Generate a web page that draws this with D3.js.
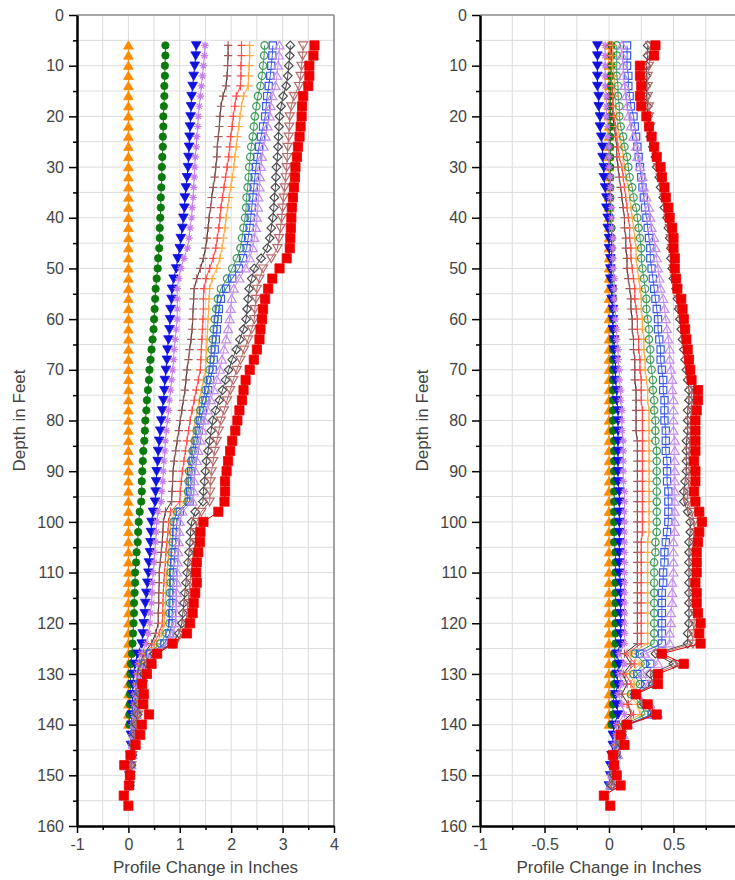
<!DOCTYPE html>
<html>
<head>
<meta charset="utf-8">
<script src="https://cdn.jsdelivr.net/npm/d3@7"></script>
<style>
  body { margin: 0; background: #fff; }
  text { font-family: "Liberation Sans", Arial, sans-serif; }
</style>
</head>
<body>
<div id="chart"></div>
<script>
// depth of each reading (feet)
var depths = [6,8,10,12,14,16,18,20,22,24,26,28,30,32,34,36,38,40,42,44,46,48,50,52,54,56,58,60,62,64,66,68,70,72,74,76,78,80,82,84,86,88,90,92,94,96,98,100,102,104,106,108,110,112,114,116,118,120,122,124,126,128,130,132,134,136,138,140,142,144,146,148,150,152,154,156];

var yTicks = [0,10,20,30,40,50,60,70,80,90,100,110,120,130,140,150,160];
var yMinor = [5,15,25,35,45,55,65,75,85,95,105,115,125,135,145,155];
var xTicksA = [-1,0,1,2,3,4];
var xMinorA = [-0.5,0.5,1.5,2.5,3.5];
var xTicksB = [-1,-0.5,0,0.5];
var xMinorB = [-0.75,-0.25,0.25,0.75];

// ---- A panel (left) profile change, inches ----
var aOrange = [0,0,0,0,0,0,0,0,0,0, 0,0,0,0,0,0,0,0,0,0, 0,0,0,0,0,0,0,0,0,0,
  0,0,0,0,0,0,0,0,0,0, 0,0,0,0,0,0,0,0,0,0, 0,0,0,0,0,0,0,0,0,0, 0,0,0,0,0,0,0,0];
var aGreen = [0.72,0.72,0.71,0.71,0.70,0.70,0.69,0.68,0.68,0.67,
  0.67,0.66,0.65,0.65,0.64,0.63,0.63,0.62,0.61,0.61,
  0.60,0.58,0.57,0.55,0.53,0.52,0.51,0.50,0.49,0.47,
  0.45,0.43,0.41,0.40,0.38,0.36,0.35,0.33,0.32,0.31,
  0.29,0.28,0.27,0.26,0.26,0.25,0.22,0.20,0.19,0.18,
  0.16,0.15,0.13,0.13,0.12,0.11,0.11,0.10,0.09,0.08,
  0.07,0.05,0.04,0.04,0.03,0.03,0.02,0.02];
var aBlue = [1.32,1.31,1.29,1.27,1.25,1.23,1.22,1.21,1.20,1.19,
  1.18,1.17,1.16,1.14,1.12,1.10,1.09,1.07,1.05,1.02,
  1.00,0.96,0.93,0.88,0.85,0.84,0.82,0.81,0.80,0.78,
  0.76,0.75,0.73,0.71,0.70,0.68,0.66,0.64,0.62,0.60,
  0.58,0.57,0.55,0.54,0.53,0.52,0.48,0.45,0.44,0.43,
  0.42,0.40,0.39,0.37,0.35,0.33,0.32,0.30,0.28,0.26,
  0.18,0.13,0.10,0.09,0.08,0.08,0.07,0.06,0.05,0.05,
  0.04,0.03,0.02,0.02];
var aViolet = [1.49,1.48,1.46,1.44,1.42,1.40,1.38,1.36,1.35,1.33,
  1.32,1.30,1.29,1.28,1.27,1.26,1.24,1.23,1.20,1.18,
  1.15,1.08,1.02,0.98,0.95,0.95,0.95,0.95,0.93,0.91,
  0.89,0.88,0.86,0.84,0.82,0.80,0.78,0.76,0.74,0.72,
  0.71,0.69,0.68,0.67,0.65,0.64,0.58,0.55,0.54,0.53,
  0.51,0.50,0.48,0.47,0.46,0.45,0.43,0.42,0.39,0.35,
  0.25,0.19,0.16,0.14,0.12,0.11,0.10,0.08,0.07,0.06,
  0.05,0.04,0.03,0.02];
var aBrownPlus = [1.94,1.94,1.93,1.92,1.90,1.84,1.80,1.78,1.77,1.75,
  1.73,1.72,1.70,1.68,1.65,1.62,1.60,1.57,1.55,1.53,
  1.50,1.46,1.40,1.33,1.28,1.27,1.26,1.25,1.24,1.22,
  1.19,1.17,1.14,1.12,1.10,1.07,1.04,1.01,0.98,0.95,
  0.92,0.89,0.87,0.86,0.85,0.84,0.72,0.68,0.67,0.66,
  0.64,0.62,0.60,0.60,0.59,0.59,0.58,0.58,0.53,0.45,
  0.30,0.22,0.18,0.16,0.14,0.13,0.12,0.10,0.09,0.08,
  0.06,0.05,0.04,0.03];
var aRedPlus = [2.20,2.20,2.19,2.19,2.18,2.10,2.07,2.04,2.02,1.99,
  1.97,1.95,1.92,1.89,1.86,1.83,1.80,1.78,1.76,1.73,
  1.70,1.65,1.58,1.51,1.47,1.46,1.46,1.45,1.44,1.43,
  1.42,1.41,1.40,1.36,1.32,1.28,1.24,1.20,1.17,1.14,
  1.11,1.08,1.05,1.03,1.01,1.00,0.82,0.78,0.77,0.75,
  0.73,0.72,0.70,0.69,0.68,0.67,0.67,0.66,0.60,0.50,
  0.33,0.25,0.20,0.18,0.16,0.15,0.13,0.12,0.10,0.09,
  0.07,0.05,0.04,0.03];
var aOrangePlus = [2.36,2.36,2.35,2.34,2.33,2.24,2.20,2.17,2.15,2.12,
  2.10,2.07,2.05,2.02,1.99,1.96,1.93,1.90,1.88,1.85,
  1.82,1.78,1.72,1.63,1.58,1.57,1.56,1.55,1.54,1.53,
  1.52,1.51,1.50,1.46,1.42,1.38,1.34,1.30,1.27,1.24,
  1.21,1.18,1.15,1.13,1.11,1.10,0.90,0.83,0.82,0.80,
  0.79,0.77,0.75,0.74,0.73,0.72,0.71,0.70,0.65,0.55,
  0.35,0.27,0.22,0.19,0.17,0.16,0.14,0.12,0.11,0.09,
  0.07,0.05,0.04,0.03];
var aGreenO = [2.65,2.64,2.62,2.60,2.57,2.52,2.49,2.46,2.44,2.42,
  2.39,2.37,2.35,2.34,2.32,2.30,2.29,2.27,2.24,2.21,
  2.18,2.11,2.02,1.92,1.80,1.74,1.71,1.68,1.66,1.64,
  1.62,1.60,1.58,1.54,1.50,1.45,1.40,1.36,1.33,1.29,
  1.25,1.22,1.18,1.17,1.16,1.15,0.95,0.88,0.87,0.86,
  0.84,0.83,0.82,0.82,0.81,0.81,0.80,0.80,0.74,0.62,
  0.40,0.30,0.24,0.21,0.18,0.17,0.15,0.12,0.11,0.09,
  0.07,0.05,0.04,0.03];
var aBlueSq = [2.81,2.80,2.78,2.76,2.73,2.70,2.68,2.66,2.62,2.58,
  2.54,2.51,2.48,2.46,2.44,2.42,2.40,2.38,2.36,2.33,
  2.30,2.23,2.15,2.02,1.90,1.80,1.76,1.74,1.72,1.70,
  1.68,1.66,1.64,1.59,1.55,1.50,1.45,1.40,1.37,1.33,
  1.29,1.25,1.22,1.21,1.20,1.19,1.00,0.94,0.93,0.92,
  0.90,0.89,0.87,0.87,0.86,0.86,0.85,0.85,0.80,0.70,
  0.42,0.32,0.25,0.22,0.19,0.18,0.16,0.13,0.11,0.09,
  0.07,0.05,0.04,0.03];
var aVioletTri = [2.94,2.93,2.91,2.89,2.86,2.80,2.77,2.75,2.71,2.67,
  2.63,2.60,2.58,2.56,2.55,2.53,2.52,2.50,2.48,2.45,
  2.42,2.36,2.28,2.16,2.05,2.01,1.99,1.97,1.94,1.90,
  1.86,1.82,1.78,1.72,1.66,1.60,1.54,1.48,1.44,1.40,
  1.36,1.33,1.30,1.28,1.27,1.25,1.05,1.00,0.99,0.98,
  0.97,0.96,0.95,0.94,0.94,0.93,0.93,0.92,0.87,0.78,
  0.45,0.34,0.27,0.23,0.20,0.18,0.16,0.13,0.12,0.10,
  0.08,0.06,0.04,0.03];
var aGray = [3.15,3.14,3.12,3.10,3.07,3.01,2.97,2.94,2.93,2.92,
  2.91,2.90,2.88,2.87,2.86,2.84,2.83,2.81,2.78,2.75,
  2.70,2.58,2.45,2.40,2.35,2.33,2.31,2.29,2.24,2.17,
  2.10,2.02,1.95,1.89,1.83,1.77,1.70,1.64,1.61,1.58,
  1.55,1.52,1.50,1.48,1.46,1.45,1.30,1.23,1.21,1.20,
  1.18,1.16,1.14,1.12,1.10,1.08,1.06,1.04,0.98,0.85,
  0.50,0.37,0.30,0.26,0.22,0.20,0.18,0.15,0.13,0.11,
  0.08,0.06,0.04,0.03];
var aBrownTri = [3.40,3.39,3.37,3.35,3.32,3.22,3.17,3.14,3.13,3.12,
  3.10,3.09,3.08,3.06,3.04,3.02,3.00,2.98,2.96,2.93,
  2.90,2.78,2.62,2.55,2.50,2.48,2.46,2.45,2.40,2.33,
  2.25,2.18,2.11,2.04,1.98,1.92,1.86,1.80,1.76,1.72,
  1.68,1.65,1.62,1.60,1.59,1.58,1.42,1.33,1.31,1.30,
  1.27,1.24,1.22,1.20,1.18,1.16,1.14,1.12,1.05,0.90,
  0.55,0.40,0.33,0.28,0.24,0.22,0.19,0.16,0.14,0.11,
  0.08,0.06,0.04,0.03];
var aRed = [3.62,3.60,3.52,3.52,3.50,3.40,3.38,3.37,3.35,3.33,
  3.30,3.28,3.25,3.24,3.22,3.20,3.18,3.17,3.16,3.15,
  3.14,3.08,2.94,2.80,2.72,2.66,2.62,2.60,2.57,2.55,
  2.50,2.44,2.36,2.28,2.24,2.21,2.16,2.12,2.08,2.02,
  1.98,1.94,1.91,1.88,1.88,1.87,1.75,1.46,1.40,1.39,
  1.36,1.33,1.32,1.33,1.30,1.27,1.25,1.20,1.14,0.86,
  0.56,0.45,0.36,0.27,0.30,0.29,0.40,0.26,0.23,0.14,
  0.04,-0.08,0.03,0.01,-0.09,0.00];

// ---- B panel (right) profile change, inches ----
var bOrange = [0,0,0,0,0,0,0,0,0,0, 0,0,0,0,0,0,0,0,0,0, 0,0,0,0,0,0,0,0,0,0,
  0,0,0,0,0,0,0,0,0,0, 0,0,0,0,0,0,0,0,0,0, 0,0,0,0,0,0,0,0,0,0, 0,0,0,0,0,0,0,0];
var bGreen = [0.02,0.02,0.02,0.01,0.01,0.01,0.01,0.01,0.01,0.01,
  0.01,0.01,0.01,0.01,0.01,0.01,0.01,0.01,0.02,0.02,
  0.02,0.02,0.02,0.02,0.03,0.03,0.03,0.03,0.03,0.03,
  0.03,0.03,0.03,0.03,0.03,0.03,0.03,0.03,0.03,0.04,
  0.04,0.04,0.04,0.04,0.04,0.04,0.04,0.04,0.04,0.04,
  0.05,0.05,0.05,0.05,0.05,0.05,0.05,0.05,0.05,0.05,
  0.04,0.05,0.04,0.04,0.04,0.03,0.03,0.02];
var bBlue = [-0.09,-0.09,-0.09,-0.09,-0.09,-0.08,-0.08,-0.07,-0.07,-0.06,
  -0.05,-0.05,-0.04,-0.04,-0.03,-0.02,-0.02,-0.01,-0.01,0.00,
  0.00,0.01,0.01,0.01,0.02,0.02,0.03,0.03,0.03,0.04,
  0.04,0.05,0.05,0.05,0.06,0.06,0.07,0.07,0.07,0.07,
  0.07,0.07,0.07,0.07,0.08,0.08,0.08,0.08,0.08,0.08,
  0.08,0.08,0.08,0.09,0.09,0.09,0.09,0.09,0.09,0.09,
  0.06,0.08,0.06,0.07,0.05,0.06,0.07,0.04,0.03,0.03,
  0.02,0.01,0.01,0.00];
var bViolet = [-0.03,-0.03,-0.03,-0.03,-0.03,-0.02,-0.02,-0.02,-0.01,-0.01,
  0.00,0.00,0.00,0.01,0.01,0.01,0.02,0.02,0.02,0.03,
  0.03,0.03,0.03,0.04,0.04,0.04,0.05,0.05,0.06,0.06,
  0.07,0.07,0.08,0.08,0.09,0.09,0.10,0.10,0.10,0.11,
  0.11,0.11,0.11,0.11,0.12,0.12,0.12,0.12,0.12,0.12,
  0.12,0.12,0.12,0.12,0.12,0.12,0.12,0.12,0.12,0.12,
  0.08,0.12,0.08,0.10,0.07,0.10,0.12,0.06,0.05,0.04,
  0.03,0.02,0.01,0.01];
var bBrownPlus = [0.02,0.02,0.02,0.02,0.02,0.03,0.03,0.03,0.04,0.05,
  0.06,0.06,0.07,0.08,0.09,0.10,0.11,0.12,0.12,0.13,
  0.13,0.14,0.14,0.15,0.16,0.17,0.17,0.18,0.18,0.19,
  0.19,0.20,0.20,0.20,0.21,0.21,0.21,0.21,0.21,0.22,
  0.22,0.22,0.22,0.22,0.22,0.22,0.22,0.22,0.22,0.22,
  0.22,0.22,0.22,0.22,0.22,0.22,0.22,0.22,0.22,0.22,
  0.12,0.17,0.11,0.14,0.10,0.15,0.17,0.08,0.06,0.05,
  0.04,0.03,0.02,0.01];
var bRedPlus = [0.01,0.01,0.02,0.02,0.02,0.03,0.03,0.04,0.05,0.06,
  0.07,0.08,0.10,0.11,0.12,0.13,0.14,0.15,0.16,0.16,
  0.17,0.17,0.18,0.19,0.20,0.20,0.21,0.22,0.22,0.23,
  0.23,0.24,0.24,0.25,0.25,0.25,0.26,0.26,0.26,0.26,
  0.26,0.26,0.26,0.26,0.26,0.26,0.26,0.26,0.26,0.25,
  0.25,0.25,0.25,0.25,0.25,0.25,0.25,0.25,0.25,0.25,
  0.14,0.20,0.13,0.17,0.22,0.14,0.19,0.10,0.07,0.06,
  0.05,0.03,0.02,0.01];
var bOrangePlus = [0.03,0.03,0.03,0.04,0.04,0.05,0.05,0.06,0.07,0.08,
  0.10,0.11,0.12,0.13,0.15,0.16,0.17,0.18,0.19,0.20,
  0.21,0.21,0.22,0.23,0.24,0.25,0.25,0.26,0.26,0.27,
  0.27,0.28,0.28,0.29,0.30,0.30,0.31,0.31,0.31,0.31,
  0.31,0.31,0.31,0.31,0.31,0.31,0.31,0.31,0.31,0.30,
  0.30,0.30,0.30,0.30,0.30,0.30,0.30,0.30,0.30,0.30,
  0.17,0.24,0.16,0.20,0.15,0.22,0.24,0.11,0.08,0.07,
  0.05,0.04,0.02,0.01];
var bGreenO = [0.06,0.06,0.06,0.06,0.07,0.07,0.08,0.08,0.09,0.11,
  0.12,0.14,0.15,0.16,0.18,0.19,0.21,0.22,0.23,0.24,
  0.25,0.25,0.26,0.27,0.28,0.29,0.29,0.30,0.31,0.31,
  0.32,0.32,0.33,0.34,0.34,0.35,0.35,0.36,0.36,0.36,
  0.37,0.37,0.37,0.37,0.37,0.37,0.37,0.37,0.37,0.36,
  0.36,0.35,0.35,0.35,0.35,0.35,0.35,0.35,0.35,0.35,
  0.20,0.28,0.19,0.24,0.17,0.25,0.28,0.12,0.09,0.08,
  0.06,0.04,0.03,0.01];
var bBlueSq = [0.14,0.14,0.14,0.15,0.15,0.16,0.17,0.19,0.20,0.21,
  0.22,0.23,0.24,0.25,0.26,0.27,0.28,0.29,0.30,0.31,
  0.32,0.32,0.33,0.34,0.35,0.36,0.37,0.38,0.38,0.39,
  0.40,0.40,0.41,0.42,0.42,0.43,0.43,0.43,0.44,0.44,
  0.44,0.45,0.45,0.45,0.46,0.46,0.46,0.46,0.45,0.44,
  0.43,0.43,0.42,0.42,0.41,0.41,0.41,0.41,0.41,0.41,
  0.24,0.32,0.22,0.28,0.20,0.29,0.33,0.14,0.10,0.09,
  0.06,0.04,0.03,0.01];
var bVioletTri = [0.10,0.10,0.11,0.11,0.12,0.13,0.14,0.15,0.17,0.19,
  0.21,0.22,0.24,0.26,0.27,0.29,0.31,0.32,0.33,0.35,
  0.36,0.37,0.38,0.39,0.40,0.42,0.43,0.44,0.45,0.46,
  0.47,0.47,0.48,0.49,0.49,0.50,0.50,0.50,0.50,0.51,
  0.51,0.51,0.51,0.51,0.51,0.51,0.51,0.51,0.51,0.50,
  0.50,0.50,0.50,0.49,0.49,0.49,0.48,0.48,0.47,0.47,
  0.28,0.38,0.26,0.31,0.22,0.32,0.38,0.15,0.11,0.10,
  0.07,0.05,0.03,0.01];
var bGray = [0.30,0.30,0.29,0.29,0.29,0.29,0.30,0.30,0.31,0.32,
  0.34,0.36,0.37,0.39,0.40,0.42,0.43,0.45,0.46,0.47,
  0.48,0.48,0.49,0.50,0.52,0.53,0.54,0.55,0.56,0.57,
  0.58,0.59,0.60,0.61,0.62,0.62,0.61,0.61,0.61,0.60,
  0.60,0.60,0.60,0.59,0.58,0.58,0.61,0.63,0.63,0.62,
  0.62,0.62,0.62,0.62,0.62,0.62,0.62,0.62,0.61,0.61,
  0.36,0.50,0.32,0.34,0.20,0.27,0.35,0.13,0.10,0.10,
  0.05,0.04,0.04,0.02];
var bBrownTri = [0.32,0.32,0.31,0.30,0.30,0.30,0.31,0.31,0.32,0.33,
  0.35,0.37,0.38,0.40,0.42,0.43,0.45,0.46,0.47,0.48,
  0.49,0.50,0.50,0.51,0.53,0.54,0.55,0.57,0.58,0.59,
  0.60,0.61,0.62,0.63,0.64,0.64,0.64,0.63,0.63,0.63,
  0.62,0.62,0.62,0.62,0.61,0.61,0.64,0.66,0.66,0.65,
  0.65,0.65,0.65,0.65,0.65,0.65,0.66,0.66,0.65,0.65,
  0.38,0.54,0.35,0.36,0.21,0.28,0.36,0.14,0.10,0.11,
  0.05,0.04,0.05,0.03];
var bRed = [0.36,0.35,0.24,0.24,0.25,0.24,0.25,0.29,0.31,0.33,
  0.35,0.37,0.40,0.41,0.43,0.44,0.46,0.47,0.49,0.50,
  0.50,0.51,0.51,0.52,0.53,0.56,0.57,0.58,0.59,0.60,
  0.61,0.62,0.63,0.64,0.69,0.69,0.68,0.67,0.67,0.67,
  0.67,0.66,0.67,0.67,0.66,0.67,0.70,0.72,0.70,0.69,
  0.68,0.68,0.68,0.67,0.68,0.68,0.69,0.71,0.70,0.71,
  0.41,0.58,0.38,0.38,0.21,0.30,0.37,0.14,0.09,0.12,
  0.03,0.04,0.06,0.09,-0.04,0.01];

// one entry per reading: values for both panels + how it is drawn
var readings = [
  {a: aOrange, b: bOrange, color: "#ff8a00", line: "#ff8a00", marker: "tri", fill: true, s: 4.6},
  {a: aGreen, b: bGreen, color: "#0a7a0a", line: "#0a7a0a", marker: "circle", fill: true, s: 3.7},
  {a: aBlue, b: bBlue, color: "#1010e0", line: "#1010e0", marker: "tridown", fill: true, s: 4.6},
  {a: aViolet, b: bViolet, color: "#c77df0", line: "#c77df0", marker: "star", fill: false, s: 3.8},
  {a: aBrownPlus, b: bBrownPlus, color: "#9a5a5a", line: "#3a2020", marker: "plus", fill: false, s: 4.2},
  {a: aRedPlus, b: bRedPlus, color: "#ff4a4a", line: "#ff4a4a", marker: "plus", fill: false, s: 4.2},
  {a: aOrangePlus, b: bOrangePlus, color: "#ffaa40", line: "#ffaa40", marker: "plus", fill: false, s: 4.2},
  {a: aGreenO, b: bGreenO, color: "#3c9a5c", line: "#3c9a5c", marker: "circle", fill: false, s: 3.7},
  {a: aBlueSq, b: bBlueSq, color: "#3a5ae6", line: "#3a5ae6", marker: "square", fill: false, s: 3.6},
  {a: aVioletTri, b: bVioletTri, color: "#c58cf0", line: "#c58cf0", marker: "tri", fill: false, s: 4.3},
  {a: aGray, b: bGray, color: "#4a4a4a", line: "#4a4a4a", marker: "diamond", fill: false, s: 4.3},
  {a: aBrownTri, b: bBrownTri, color: "#b86a6a", line: "#b86a6a", marker: "tridown", fill: false, s: 4.3},
  {a: aRed, b: bRed, color: "#ee0000", line: "#ee0000", marker: "square", fill: true, s: 4.6}
];

var svgWidth = 735;
var svgHeight = 880;
var plotTop = 15;
var plotBottom = 826;

var svg = d3.select("#chart")
  .append("svg")
  .attr("width", svgWidth)
  .attr("height", svgHeight)
  .style("background", "#fff");

var y = d3.scaleLinear().domain([0, 160]).range([plotTop, plotBottom]);

function markerPath(type, s) {
  if (type == "square") return "M" + (-s) + "," + (-s) + "h" + 2 * s + "v" + 2 * s + "h" + (-2 * s) + "Z";
  if (type == "tri") return "M0," + (-s) + "L" + s * 1.05 + "," + s * 0.8 + "L" + (-s * 1.05) + "," + s * 0.8 + "Z";
  if (type == "tridown") return "M0," + s + "L" + s * 1.05 + "," + (-s * 0.8) + "L" + (-s * 1.05) + "," + (-s * 0.8) + "Z";
  if (type == "diamond") return "M0," + (-s) + "L" + s + ",0L0," + s + "L" + (-s) + ",0Z";
  if (type == "circle") return "M" + s + ",0A" + s + "," + s + " 0 1,1 " + (-s) + ",0A" + s + "," + s + " 0 1,1 " + s + ",0Z";
  if (type == "plus") return "M" + (-s) + ",0H" + s + "M0," + (-s) + "V" + s;
  // star: plus and cross together
  var k = s * 0.7;
  return "M" + (-s) + ",0H" + s + "M0," + (-s) + "V" + s + "M" + (-k) + "," + (-k) + "L" + k + "," + k + "M" + k + "," + (-k) + "L" + (-k) + "," + k;
}

function drawPanel(p) {
  var x = d3.scaleLinear().domain(p.domain).range([p.left, p.right]);
  var g = svg.append("g");

  // grid
  var gridX = p.ticks.concat(p.minor).filter(function(d) { return d > p.domain[0]; });
  g.selectAll(".vgrid").data(gridX).enter().append("line")
    .attr("x1", function(d) { return x(d); }).attr("x2", function(d) { return x(d); })
    .attr("y1", plotTop).attr("y2", plotBottom)
    .attr("stroke", "#dcdcdc").attr("stroke-width", 1);
  g.selectAll(".hgrid").data(yTicks.concat(yMinor).filter(function(d) { return d > 0 && d < 160; })).enter().append("line")
    .attr("x1", p.left).attr("x2", p.right)
    .attr("y1", function(d) { return y(d); }).attr("y2", function(d) { return y(d); })
    .attr("stroke", "#dcdcdc").attr("stroke-width", 1);

  // frame top / right
  g.append("line").attr("x1", p.left).attr("x2", p.right).attr("y1", plotTop).attr("y2", plotTop)
    .attr("stroke", "#8a8a8a").attr("stroke-width", 1.5);
  g.append("line").attr("x1", p.right).attr("x2", p.right).attr("y1", plotTop).attr("y2", plotBottom)
    .attr("stroke", "#8a8a8a").attr("stroke-width", 1.5);

  // series
  readings.forEach(function(r) {
    var pts = r[p.key].map(function(v, i) { return [v, depths[i]]; });
    var line = d3.line().x(function(d) { return x(d[0]); }).y(function(d) { return y(d[1]); });
    g.append("path").datum(pts)
      .attr("d", line)
      .attr("fill", "none")
      .attr("stroke", r.line)
      .attr("stroke-width", 1);
    g.selectAll(null).data(pts).enter().append("path")
      .attr("transform", function(d) { return "translate(" + x(d[0]) + "," + y(d[1]) + ")"; })
      .attr("d", markerPath(r.marker, r.s))
      .attr("fill", r.fill ? r.color : "none")
      .attr("stroke", r.color)
      .attr("stroke-width", r.fill ? 0.8 : 1.2);
  });

  // axes
  g.append("g").attr("transform", "translate(" + p.left + ",0)")
    .call(d3.axisLeft(y).tickValues(yTicks).tickSize(8).tickSizeOuter(0).tickPadding(5).tickFormat(function(d) { return String(d); }));
  g.append("g").attr("transform", "translate(" + p.left + ",0)")
    .call(d3.axisLeft(y).tickValues(yMinor).tickSize(4).tickSizeOuter(0).tickFormat(""))
    .select(".domain").remove();

  g.append("g").attr("transform", "translate(0," + plotBottom + ")")
    .call(d3.axisBottom(x).tickValues(p.ticks).tickSize(7).tickSizeOuter(0).tickPadding(6).tickFormat(function(d) { return String(d); }));
  g.append("g").attr("transform", "translate(0," + plotBottom + ")")
    .call(d3.axisBottom(x).tickValues(p.minor).tickSize(4).tickSizeOuter(0).tickFormat(""))
    .select(".domain").remove();

  g.selectAll(".domain").attr("stroke", "#000").attr("stroke-width", 2.5);
  g.selectAll(".tick line").attr("stroke", "#000").attr("stroke-width", 1.5);
  g.selectAll(".tick text").attr("fill", "#444").style("font-size", "16px");

  // axis titles
  g.append("text")
    .attr("transform", "translate(" + p.titleX + "," + (plotTop + plotBottom) / 2 + ") rotate(-90)")
    .attr("text-anchor", "middle")
    .attr("fill", "#444")
    .style("font-size", "17px")
    .text("Depth in Feet");
  g.append("text")
    .attr("x", x((p.domain[0] + p.domain[1]) / 2))
    .attr("y", 873)
    .attr("text-anchor", "middle")
    .attr("fill", "#444")
    .style("font-size", "17px")
    .text("Profile Change in Inches");
}

drawPanel({key: "a", left: 77, right: 334, domain: [-1, 4], ticks: xTicksA, minor: xMinorA, titleX: 25});
drawPanel({key: "b", left: 480, right: 738, domain: [-1, 1], ticks: xTicksB, minor: xMinorB, titleX: 428});
</script>
</body>
</html>
